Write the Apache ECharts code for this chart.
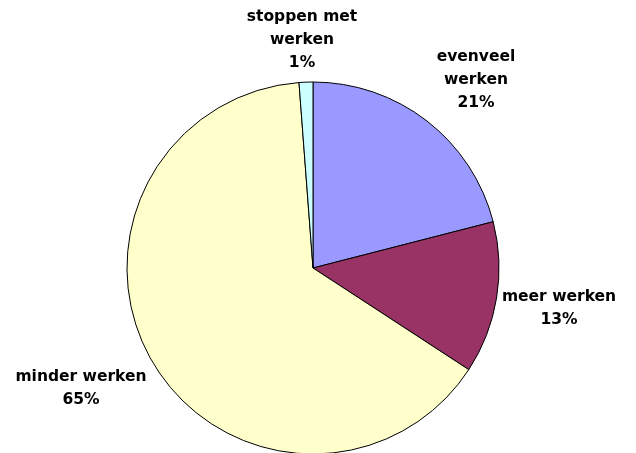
<!DOCTYPE html>
<html>
<head>
<meta charset="utf-8">
<script src="https://cdn.jsdelivr.net/npm/echarts@6/dist/echarts.min.js"></script>
<style>
  html, body { margin: 0; padding: 0; background: #fff; }
  #main { width: 636px; height: 453px; }
</style>
</head>
<body>
<div id="main"></div>
<script>
// slices, clockwise from 12 o'clock
var categories = ['evenveel\nwerken', 'meer werken', 'minder werken', 'stoppen met\nwerken'];
var values = [21.0, 13.2, 64.6, 1.2];
var colors = ['#9999FF', '#993366', '#FFFFCC', '#CCFFFF'];

// where each label sits (text block centre)
var labelPos = [[476, 80], [559, 308], [81, 388], [302, 40]];

var chart = echarts.init(document.getElementById('main'));

var data = categories.map(function (c, i) {
    return { name: c, value: values[i], itemStyle: { color: colors[i] } };
});

chart.setOption({
    animation: false,
    series: [{
        type: 'pie',
        center: [313, 268],
        radius: 186,
        startAngle: 90,
        clockwise: true,
        data: data,
        itemStyle: { borderColor: '#000', borderWidth: 1 },
        label: {
            show: true,
            position: 'outside',
            color: '#000',
            fontFamily: 'DejaVu Sans, Arial, sans-serif',
            fontWeight: 'bold',
            fontSize: 15.5,
            lineHeight: 23,
            align: 'center',
            overflow: 'none',
            width: 200,
            formatter: function (p) {
                return p.name + '\n' + Math.round(p.percent) + '%';
            }
        },
        labelLine: { show: false },
        labelLayout: function (p) {
            var pos = labelPos[p.dataIndex];
            return { x: pos[0], y: pos[1], align: 'center', verticalAlign: 'middle' };
        },
        emphasis: { disabled: true }
    }]
});
</script>
</body>
</html>
